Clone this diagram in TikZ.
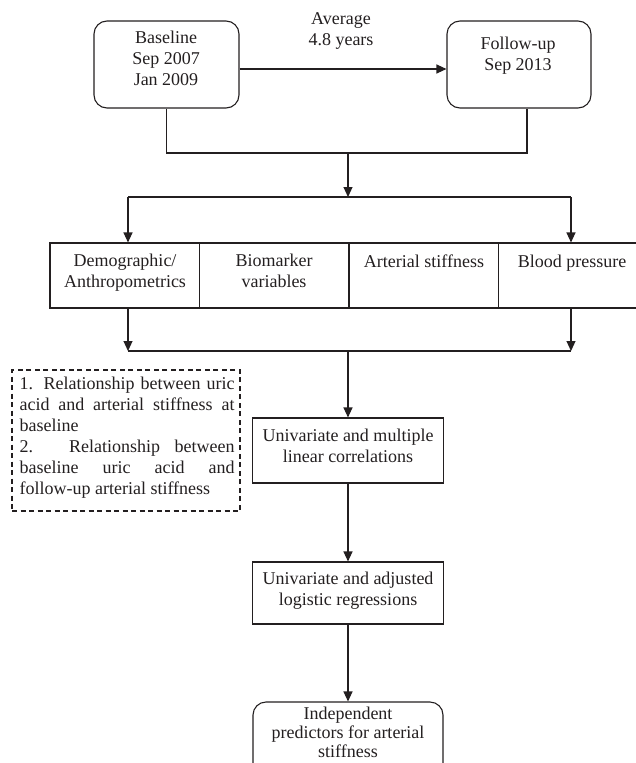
\documentclass[tikz,border=0pt]{standalone}
\usepackage{fontspec}
\setmainfont{Liberation Serif}
\usetikzlibrary{arrows.meta,positioning}
\definecolor{ink}{HTML}{231F20}
\setlength{\parindent}{0pt}

\begin{document}
\begin{tikzpicture}[x=1pt,y=-1pt,line width=1.1pt,draw=ink,text=ink,
	lbl/.style={font=\fontsize{18}{21}\selectfont, align=center, inner sep=0pt, anchor=north},
	rbox/.style={draw, rounded corners=13pt, inner sep=0pt},
	sbox/.style={draw, inner sep=0pt},
	cell/.style={sbox, minimum width=149.5pt, minimum height=65pt},
	arr/.style={-{Triangle[length=10pt,width=9pt]}}]
	%%%%% START %%%%%
	\useasboundingbox (0,0) rectangle (636,763);
	\clip (0,0) rectangle (636,763);
	
	% baseline and follow-up
	\node[rbox, minimum width=145pt, minimum height=87pt] (base) at (166.5,64.5) {};
	\node[rbox, minimum width=144pt, minimum height=87pt] (fup) at (519,64.5) {};
	\node[lbl] (basetxt) at (166,30) {Baseline\\Sep 2007\\Jan 2009};
	\node[lbl] (fuptxt) at (518,36) {Follow-up\\Sep 2013};
	\node[lbl] (avg) at (341,12) {Average\\4.8 years};
	\draw[arr] ([yshift=-4.5pt]base.east) -- ([yshift=-4.5pt]fup.west);
	
	\coordinate (j1) at (348,153);
	\coordinate (j2) at (348,197);
	\draw (base.south) |- (j1) -| ([xshift=8pt]fup.south);
	\draw[arr] (j1) -- (j2);
	
	% measured variables
	\coordinate (s1) at (128,197);
	\coordinate (s2) at (571,197);
	\draw (s1) -- (s2);
	\foreach \name/\cx in {demo/124.75, bio/274.25, art/423.75, bp/573.25}
		\node[cell] (\name) at (\cx,275.5) {};
	\node[lbl] (demotxt) at (125,253) {Demographic/\\Anthropometrics};
	\node[lbl] (biotxt) at (274,253) {Biomarker\\variables};
	\node[lbl] (arttxt) at (424,254) {Arterial stiffness};
	\node[lbl] (bptxt) at (572,254) {Blood pressure};
	\draw[arr] (s1) -- (s1 |- demo.north);
	\draw[arr] (s2) -- (s2 |- bp.north);
	
	\coordinate (m1) at (128,351);
	\coordinate (m2) at (571,351);
	\coordinate (m0) at (348,351);
	\draw[arr] (s1 |- demo.south) -- (m1);
	\draw[arr] (s2 |- bp.south) -- (m2);
	\draw (m1) -- (m2);
	
	% analyses
	\node[sbox, minimum width=191pt, minimum height=65pt] (uni) at (348,450.5) {};
	\node[lbl] (unitxt) at (348,428) {Univariate and multiple\\linear correlations};
	\node[sbox, minimum width=191pt, minimum height=62pt] (logi) at (348,593) {};
	\node[lbl] (logitxt) at (348,571) {Univariate and adjusted\\logistic regressions};
	\node[rbox, minimum width=190pt, minimum height=76pt] (pred) at (348,740) {};
	\node[lbl, font=\fontsize{18}{19}\selectfont] (predtxt) at (348,706) {Independent\\predictors for arterial\\stiffness};
	\draw[arr] (m0) -- (m0 |- uni.north);
	\draw[arr] (uni.south) -- (logi.north);
	\draw[arr] (logi.south) -- (pred.north);
	
	% aims
	\node[sbox, dash pattern=on 5pt off 3.5pt, minimum width=228pt, minimum height=141pt] (note) at (126,440.5) {};
	\node[lbl, anchor=north west, text width=215pt, align=justify] (notetxt) at (19,376)
		{1. Relationship between uric\linebreak acid and arterial stiffness at\linebreak baseline\par
		2. Relationship between\linebreak baseline uric acid and\linebreak follow-up arterial stiffness};
	%%%%% END %%%%%
\end{tikzpicture}
\end{document}
